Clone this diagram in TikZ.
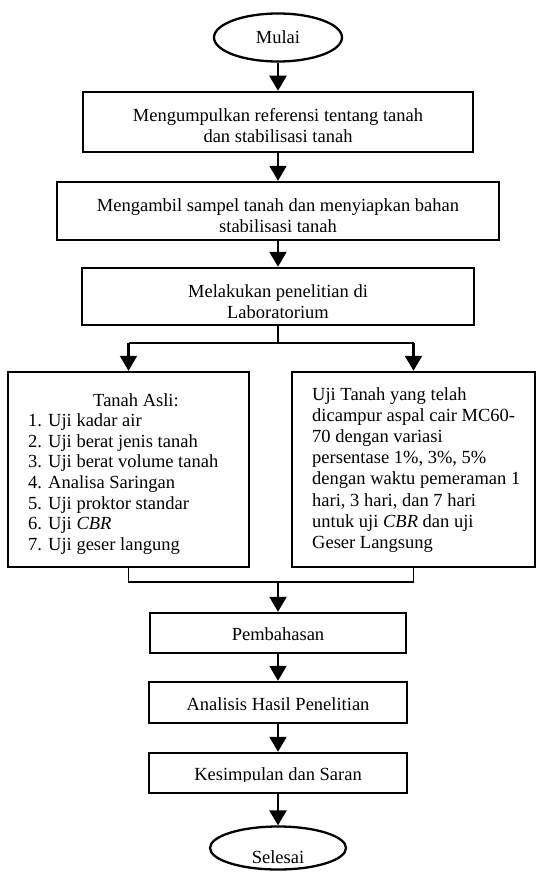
\documentclass[tikz,border=0pt]{standalone}
\usepackage{fontspec}
\setmainfont{Liberation Serif}
\usetikzlibrary{arrows.meta,shapes.geometric}
\begin{document}
\begin{tikzpicture}[x=1pt,y=-1pt,
  every node/.style={font=\fontsize{18.5}{21}\selectfont},
  box/.style={draw, line width=2.5pt, inner sep=0pt},
  oval/.style={draw, ellipse, line width=2.3pt, inner sep=0pt},
  txt/.style={inner sep=0pt, anchor=base},
  ltxt/.style={inner sep=0pt, anchor=base west},
  arr/.style={line width=2.4pt, -{Triangle[width=17pt,length=15pt]}},
  thinline/.style={line width=1.7pt}
]
\useasboundingbox (0,0) rectangle (540,872);

% start
\node[oval, minimum width=128pt, minimum height=48pt] (mulai) at (278,37.5) {Mulai};

% box 1
\node[box, minimum width=390pt, minimum height=60pt] (b1) at (278,122) {};
\begin{scope}
  \clip (84,93) rectangle (470,142);
  \node[txt] (t1a) at (278,121.7) {Mengumpulkan referensi tentang tanah};
  \node[txt] (t1b) at (278,142.7) {dan stabilisasi tanah};
\end{scope}

% box 2
\node[box, minimum width=442pt, minimum height=58pt] (b2) at (278,211) {};
\begin{scope}
  \clip (58,183) rectangle (496,231);
  \node[txt] (t2a) at (278,211.7) {Mengambil sampel tanah dan menyiapkan bahan};
  \node[txt] (t2b) at (278,232.7) {stabilisasi tanah};
\end{scope}

% box 3
\node[box, minimum width=392pt, minimum height=57pt] (b3) at (278,296.5) {};
\begin{scope}
  \clip (85,269) rectangle (473,317);
  \node[txt] (t3a) at (278,297.7) {Melakukan penelitian di};
  \node[txt] (t3b) at (278,318.7) {Laboratorium};
\end{scope}

% left box
\node[box, minimum width=241pt, minimum height=195pt] (lb) at (128.5,469.5) {};
\node[txt] (lh) at (136,406) {Tanah Asli:};
\foreach \t [count=\i from 1] in {1. Uji kadar air, 2. Uji berat jenis tanah, 3. Uji berat volume tanah, 4. Analisa Saringan, 5. Uji proktor standar, {6. Uji \textit{CBR}}, 7. Uji geser langung}
  \node[ltxt] (l\i) at (28,{406+20.6*\i}) {\t};

% right box
\node[box, minimum width=243pt, minimum height=195pt] (rb) at (413.5,469.5) {};
\foreach \t [count=\i from 0] in {Uji Tanah yang telah, dicampur aspal cair MC60-, 70 dengan variasi, {persentase 1\%, 3\%, 5\%}, dengan waktu pemeraman 1, {hari, 3 hari, dan 7 hari}, untuk uji \textit{CBR} dan uji, Geser Langsung}
  \node[ltxt] (r\i) at (312,{400.5+21.1*\i}) {\t};

% lower boxes
\node[box, minimum width=256pt, minimum height=40pt] (pb) at (278,633) {};
\begin{scope}
  \clip (152,614) rectangle (404,641.5);
  \node[txt] (tp) at (278,640.6) {Pembahasan};
\end{scope}

\node[box, minimum width=258pt, minimum height=41pt] (ab) at (278,702.5) {};
\begin{scope}
  \clip (151,683) rectangle (405,711.5);
  \node[txt] (ta) at (278,710.6) {Analisis Hasil Penelitian};
\end{scope}

\node[box, minimum width=258pt, minimum height=40pt] (kb) at (278,773) {};
\begin{scope}
  \clip (151,754) rectangle (405,781.5);
  \node[txt] (tk) at (278,780.6) {Kesimpulan dan Saran};
\end{scope}

% end
\node[oval, minimum width=136pt, minimum height=43pt] (selesai) at (278,848) {};
\begin{scope}
  \clip (212,828) rectangle (344,863.5);
  \node[txt] (ts) at (278,863) {Selesai};
\end{scope}

% connectors
\draw[arr] (mulai) -- (b1);
\draw[arr] (b1) -- (b2);
\draw[arr] (b2) -- (b3);

\coordinate (sp) at (278,343);
\coordinate (spl) at (128.5,343);
\coordinate (spr) at (413.5,343);
\draw[thinline] (b3.south) -- (sp);
\draw[thinline] (spl) -- (spr);
\draw[arr] (spl) -- (lb.north);
\draw[arr] (spr) -- (rb.north);

\coordinate (mg) at (278,582);
\draw[thinline] (lb.south) |- (mg) -| (rb.south);
\draw[arr] (mg) -- (pb);
\draw[arr] (pb) -- (ab);
\draw[arr] (ab) -- (kb);
\draw[arr] (kb) -- (selesai);
\end{tikzpicture}
\end{document}
